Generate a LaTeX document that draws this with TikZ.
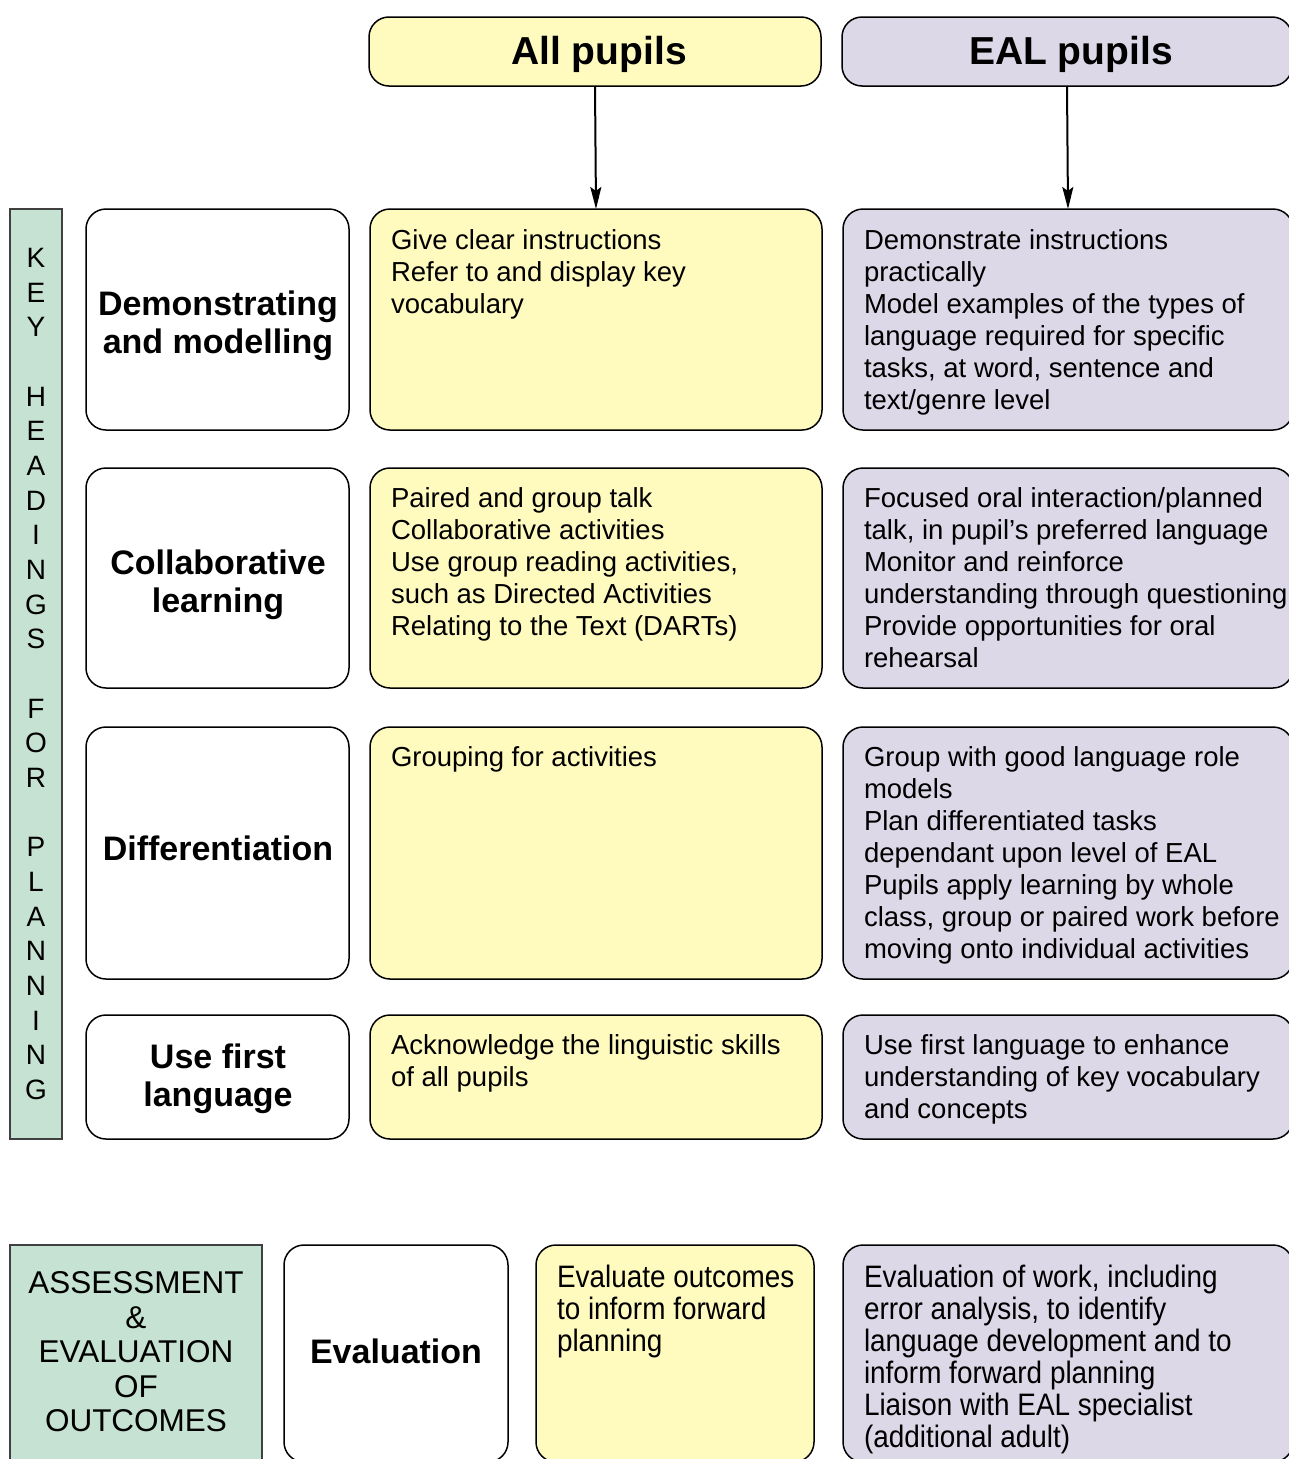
\documentclass[tikz,border=0pt]{standalone}
\usepackage{fontspec}
\setmainfont{Liberation Sans}
\newfontfamily\narrowfont[FakeStretch=0.9]{Liberation Sans}
\usetikzlibrary{arrows.meta}
\definecolor{yel}{RGB}{255,250,190}
\definecolor{pur}{RGB}{220,216,232}
\definecolor{grn}{RGB}{198,226,210}
\newcommand\fBody{\fontsize{27.5}{32}\selectfont}
\newcommand\fHead{\bfseries\fontsize{34}{38}\selectfont}
\newcommand\fTop{\bfseries\fontsize{39}{44}\selectfont}
\newcommand\fVert{\fontsize{28}{34.67}\selectfont}
\newcommand\fGreen{\fontsize{31.5}{34.5}\selectfont}
\newcommand\fNarrow{\narrowfont\fontsize{31}{32}\selectfont}
\begin{document}
\begin{tikzpicture}[x=1pt,y=-1pt,
  base/.style={draw=black, line width=1.5pt, anchor=north west, inner sep=0pt, outer sep=0pt, align=center},
  rbox/.style={base, rounded corners=20pt},
  wbox/.style={rbox, fill=white},
  ybox/.style={rbox, fill=yel},
  pbox/.style={rbox, fill=pur},
  gbox/.style={base, fill=grn, draw=black!75},
  lbl/.style={align=center, inner sep=0pt, outer sep=0pt, font=\fHead},
  toplbl/.style={inner sep=0pt, outer sep=0pt, font=\fTop},
  txt/.style={anchor=north west, align=left, inner sep=0pt, outer sep=0pt, font=\fBody},
  ntxt/.style={txt, font=\fNarrow},
  arr/.style={-{Stealth[length=22pt,width=11pt,inset=4pt]}, line width=2pt}
]
\useasboundingbox (0,0) rectangle (1289,1459);
\clip (0,0) rectangle (1289,1459);

% headers
\node[ybox, minimum width=452pt, minimum height=69pt] (hAll) at (369,17) {};
\node[pbox, minimum width=450pt, minimum height=69pt] (hEal) at (842,17) {};
\node[toplbl] (hAllt) at (599,54.8) {All pupils};
\node[toplbl] (hEalt) at (1071,54.8) {EAL pupils};

% vertical bar
\node[gbox, minimum width=52pt, minimum height=930pt, font=\fVert] (vbar) at (10,209)
  {K\\E\\Y\\[34.67pt]H\\E\\A\\D\\I\\N\\G\\S\\[34.67pt]F\\O\\R\\[34.67pt]P\\L\\A\\N\\N\\I\\N\\G};

% row 1
\node[wbox, minimum width=263pt, minimum height=221pt] (l1) at (86,209) {};
\node[lbl] (l1t) at (218,325.3) {Demonstrating\\and modelling};
\node[ybox, minimum width=452pt, minimum height=221pt] (a1) at (370,209) {};
\node[pbox, minimum width=450pt, minimum height=221pt] (e1) at (843,209) {};
\node[txt] (a1t) at ([shift={(21,21)}]a1.north west) {Give clear instructions\\Refer to and display key\\vocabulary};
\node[txt] (e1t) at ([shift={(21,21)}]e1.north west) {Demonstrate instructions\\practically\\Model examples of the types of\\language required for specific\\tasks, at word, sentence and\\text/genre level};

% row 2
\node[wbox, minimum width=263pt, minimum height=220pt] (l2) at (86,468) {};
\node[lbl] (l2t) at (218,584.3) {Collaborative\\learning};
\node[ybox, minimum width=452pt, minimum height=220pt] (a2) at (370,468) {};
\node[pbox, minimum width=450pt, minimum height=220pt] (e2) at (843,468) {};
\node[txt] (a2t) at ([shift={(21,20)}]a2.north west) {Paired and group talk\\Collaborative activities\\Use group reading activities,\\such as Directed Activities\\Relating to the Text (DARTs)};
\node[txt] (e2t) at ([shift={(21,20)}]e2.north west) {Focused oral interaction/planned\\talk, in pupil’s preferred language\\Monitor and reinforce\\understanding through questioning\\Provide opportunities for oral\\rehearsal};

% row 3
\node[wbox, minimum width=263pt, minimum height=252pt] (l3) at (86,727) {};
\node[lbl] (l3t) at (218,848) {Differentiation};
\node[ybox, minimum width=452pt, minimum height=252pt] (a3) at (370,727) {};
\node[pbox, minimum width=450pt, minimum height=252pt] (e3) at (843,727) {};
\node[txt] (a3t) at ([shift={(21,20)}]a3.north west) {Grouping for activities};
\node[txt] (e3t) at ([shift={(21,20)}]e3.north west) {Group with good language role\\models\\Plan differentiated tasks\\dependant upon level of EAL\\Pupils apply learning by whole\\class, group or paired work before\\moving onto individual activities};

% row 4
\node[wbox, minimum width=263pt, minimum height=124pt] (l4) at (86,1015) {};
\node[lbl] (l4t) at (218,1078.3) {Use first\\language};
\node[ybox, minimum width=452pt, minimum height=124pt] (a4) at (370,1015) {};
\node[pbox, minimum width=450pt, minimum height=124pt] (e4) at (843,1015) {};
\node[txt] (a4t) at ([shift={(21,20)}]a4.north west) {Acknowledge the linguistic skills\\of all pupils};
\node[txt] (e4t) at ([shift={(21,20)}]e4.north west) {Use first language to enhance\\understanding of key vocabulary\\and concepts};

% bottom row
\node[gbox, minimum width=252pt, minimum height=230pt] (gb) at (10,1245) {};
\node[font=\fGreen, align=center, inner sep=0pt] (gbt) at (136,1352) {ASSESSMENT\\\&\\EVALUATION\\OF\\OUTCOMES};
\node[wbox, minimum width=224pt, minimum height=217pt] (l5) at (284,1245) {};
\node[lbl] (l5t) at (396,1351) {Evaluation};
\node[ybox, minimum width=278pt, minimum height=217pt] (a5) at (536,1245) {};
\node[pbox, minimum width=450pt, minimum height=217pt] (e5) at (843,1245) {};
\node[ntxt] (a5t) at ([shift={(21,20)}]a5.north west) {Evaluate outcomes\\to inform forward\\planning};
\node[ntxt] (e5t) at ([shift={(21,20)}]e5.north west) {Evaluation of work, including\\error analysis, to identify\\language development and to\\inform forward planning\\Liaison with EAL specialist\\(additional adult)};

% arrows
\draw[arr] (hAll.south) -- (a1.north);
\draw[arr] (hEal.south) -- (e1.north);
\end{tikzpicture}
\end{document}
